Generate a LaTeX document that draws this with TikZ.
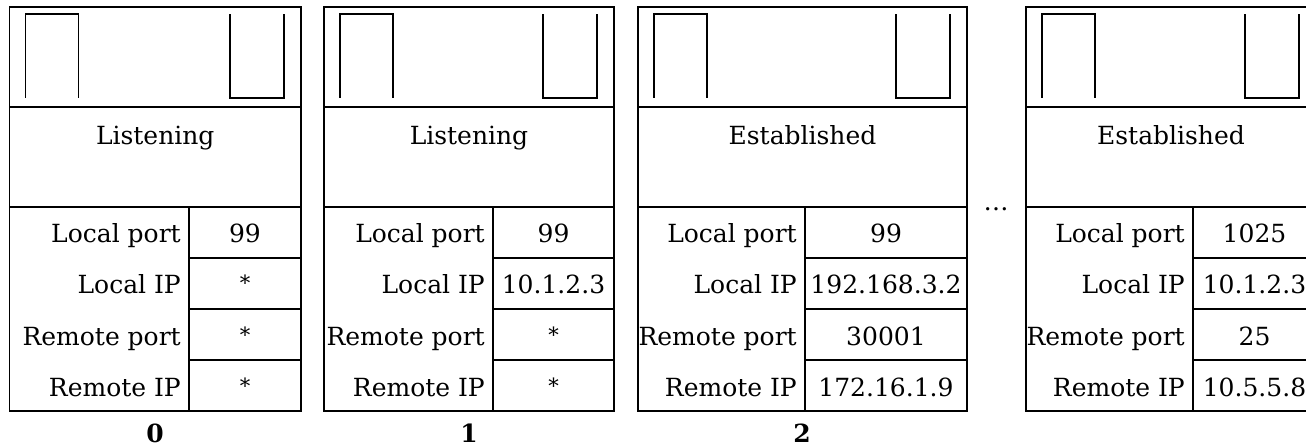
\documentclass[tikz,border=0pt]{standalone}
\usepackage{fontspec}
\setmainfont{DejaVu Serif}

% wildcard entry, set a little high as in a typeset table
\newcommand\wildcard{\raisebox{3pt}{\fontsize{21}{25}\selectfont *}}

% One socket table: #1 name, #2 left edge, #3 right edge, #4 column divider,
% #5 state, #6 local port, #7 local IP, #8 remote port, #9 remote IP
\newcommand\sockettable[9]{%
  \draw[frame] (#2,7) rectangle (#3,411);
  \draw[frame] (#2,107) -- (#3,107);
  \draw[frame] (#2,207) -- (#3,207);
  \draw[frame] (#4,207) -- (#4,411);
  \foreach \rowy in {258,309,360} \draw[frame] (#4,\rowy) -- (#3,\rowy);
  % send and receive buffers
  \draw[frame] ({#2+16},97) |- ({#2+69},14) -- ({#2+69},97);
  \draw[frame] ({#3-71},15) |- ({#3-17},98) -- ({#3-17},15);
  \node[statetext] (#1-state) at ({(#2+#3)/2},145) {#5};
  \node[keytext] (#1-lportkey) at ({#4-8},243) {Local port};
  \node[keytext] (#1-lipkey)   at ({#4-8},294) {Local IP};
  \node[keytext] (#1-rportkey) at ({#4-8},345) {Remote port};
  \node[keytext] (#1-ripkey)   at ({#4-8},396) {Remote IP};
  \node[valtext] (#1-lport) at ({(#4+#3)/2},243) {#6};
  \node[valtext] (#1-lip)   at ({(#4+#3)/2},294) {#7};
  \node[valtext] (#1-rport) at ({(#4+#3)/2},345) {#8};
  \node[valtext] (#1-rip)   at ({(#4+#3)/2},396) {#9};
}

\begin{document}
\begin{tikzpicture}[
  x=1pt, y=-1pt,
  frame/.style={line width=1.6pt, line cap=rect},
  basefont/.style={inner sep=0pt, font=\fontsize{25}{29}\selectfont},
  statetext/.style={basefont, anchor=base},
  keytext/.style={basefont, anchor=base east},
  valtext/.style={basefont, anchor=base},
  idtext/.style={basefont, anchor=base, font=\fontsize{25}{29}\selectfont\bfseries},
]
\useasboundingbox (0,0) rectangle (1306,446);

\sockettable{s0}{9.5}{301}{189}{Listening}{99}{\wildcard}{\wildcard}{\wildcard}
\sockettable{s1}{324}{614}{493}{Listening}{99}{10.1.2.3}{\wildcard}{\wildcard}
\sockettable{s2}{638}{967}{805}{Established}{99}{192.168.3.2}{30001}{172.16.1.9}
\sockettable{s3}{1026}{1316}{1193}{Established}{1025}{10.1.2.3}{25}{10.5.5.8}

\node[idtext] (id0) at (155,442) {0};
\node[idtext] (id1) at (469,442) {1};
\node[idtext] (id2) at (802,442) {2};

\node[valtext] (gap) at (996,211) {…};
\end{tikzpicture}
\end{document}
